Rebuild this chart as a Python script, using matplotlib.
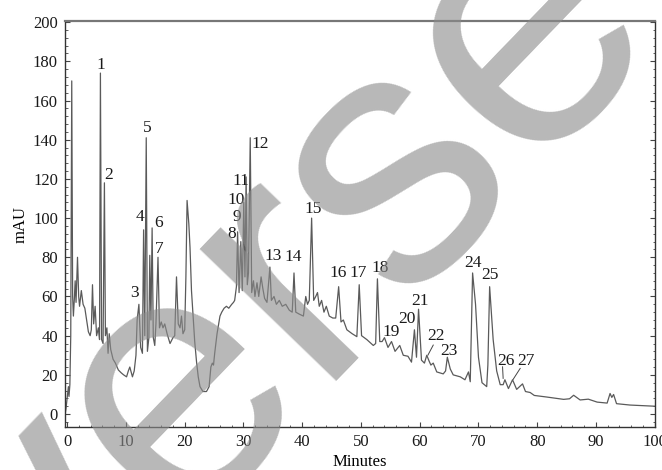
import numpy as np
import matplotlib.pyplot as plt
from matplotlib.ticker import MultipleLocator

########## Chromatogram trace ##########
t_min = [-0.4, -0.2, 0.05, 0.2, 0.3, 0.45, 0.6, 0.77, 0.92, 1.05, 1.2, 1.35, 1.5, 1.75, 1.95,
         2.1, 2.4, 2.7, 3.0, 3.3, 3.6, 3.9, 4.1, 4.3, 4.5, 4.75, 5.0, 5.3, 5.5, 5.65, 5.85,
         6.1, 6.33, 6.5, 6.75, 6.95, 7.15, 7.4, 7.8, 8.2, 8.7, 9.2, 9.6, 10.1, 10.4, 10.65,
         11.1, 11.4, 11.7, 11.9, 12.2, 12.5, 12.8, 13.0, 13.2, 13.45, 13.65, 13.9, 14.05,
         14.25, 14.45, 14.65, 14.9, 15.1, 15.45, 15.7, 16.0, 16.3, 16.6, 17.0, 17.5, 18.0,
         18.3, 18.6, 18.9, 19.2, 19.45, 19.7, 20.0, 20.2, 20.4, 20.7, 20.9, 21.15, 21.4, 21.7,
         22.0, 22.3, 22.6, 23.1, 23.7, 24.15, 24.45, 24.7, 24.9, 25.1, 25.5, 26.0, 26.3, 26.7,
         27.1, 27.5, 28.0, 28.3, 28.5, 28.8, 29.0, 29.25, 29.55, 29.8, 30.05, 30.25, 30.45,
         30.65, 30.85, 31.15, 31.4, 31.7, 31.95, 32.3, 32.6, 33.0, 33.3, 33.6, 34.0, 34.5,
         34.75, 35.2, 35.6, 36.1, 36.6, 37.2, 37.8, 38.3, 38.6, 38.9, 39.5, 40.2, 40.6, 40.9,
         41.2, 41.6, 41.95, 42.3, 42.6, 42.9, 43.3, 43.7, 44.1, 44.6, 45.2, 45.7, 46.2, 46.6,
         47.0, 47.6, 48.5, 49.3, 49.7, 50.1, 51.0, 52.1, 52.5, 52.8, 53.2, 53.6, 54.0, 54.6,
         55.2, 55.8, 56.6, 57.2, 58.0, 58.6, 59.1, 59.45, 59.8, 60.3, 60.8, 61.2, 61.6, 61.9,
         62.3, 62.9, 64.0, 64.4, 64.7, 65.2, 65.7, 66.9, 67.7, 68.3, 68.6, 69.0, 69.5, 70.0,
         70.6, 71.4, 71.6, 71.9, 72.5, 73.1, 73.7, 74.2, 74.5, 75.1, 75.8, 76.5, 77.5, 78.0,
         78.8, 79.5, 81.6, 84.5, 85.5, 86.2, 87.3, 88.7, 90.2, 91.9, 92.4, 92.7, 93.0, 93.5,
         95.8, 100.0]
mau = [-1, 3, 10, 14, 9, 15, 40, 170, 60, 50, 58, 68, 57, 80, 60,
       55, 63, 56, 54, 48, 42, 40, 43, 66, 46, 55, 40, 44, 38, 174, 38,
       36, 118, 40, 44, 31, 41, 33, 28, 26, 22.5, 21, 20, 19, 22, 24,
       19, 22, 30, 48, 56, 34, 31, 94, 40, 141, 32, 39, 81,
       48, 95, 39, 35, 46, 80, 44, 47, 44, 46, 41, 36, 39,
       40, 70, 46, 44, 50, 41, 43, 70, 109, 97, 85, 63, 51, 37,
       27, 19, 14, 11.5, 11.5, 14, 24, 26, 25, 31, 41, 50, 52, 54,
       55, 54, 56, 57, 58, 65, 93, 62, 88, 63, 108, 70, 121,
       66, 72, 141, 62, 68, 60, 67, 60, 70, 64, 59, 57, 75,
       58, 60, 56, 58, 55, 56, 53, 52, 72, 52, 51, 50, 60, 56,
       58, 100, 58, 60, 62, 55, 58, 52, 55, 50, 49, 49, 65, 47,
       48, 43, 41, 39.5, 66, 40, 38, 35, 36, 69, 37, 37, 39, 34,
       37, 32, 35, 30, 29.5, 26.5, 43, 29, 53.5, 27.5, 26, 30, 27, 25,
       26, 21.5, 20.5, 22, 29, 23, 20, 19, 17.5, 21.5, 16.5, 72, 56, 29,
       16, 14, 25, 65, 38, 22, 15, 15, 17.5, 13, 17.5, 12.6, 15.4, 11.5,
       11, 9.5, 8.7, 7.5, 7.8, 9.6, 7.2, 7.6, 6.1, 5.6, 10.5, 8.5, 10, 5.3,
       4.6, 4]

########## Peak numbers and where they are written ##########
peak_ids = list(range(1, 28))
label_t = [5.76, 7.0, 11.5, 12.35, 13.55, 15.6, 15.6, 28.0, 28.8, 28.7, 29.6, 32.9, 35.0, 38.4,
           41.8, 46.1, 49.5, 53.2, 55.1, 57.9, 60.05, 62.8, 65.0, 69.0, 71.9, 74.7, 78.1]
label_v = [178, 122, 62, 100.5, 146, 97.5, 84, 92, 100.5, 109, 119, 138, 80.6, 80,
           104.6, 72, 72, 74.5, 42, 48.5, 57.7, 40, 32, 77, 71, 27, 27]

# leader lines for the crowded small peaks (22, 26, 27)
leader_t = [(62.3, 61.4), (74.1, 74.2), (77.1, 75.9)]
leader_v = [(35.2, 30.1), (24.1, 18.2), (23.3, 17.7)]

serif = ['Liberation Serif', 'DejaVu Serif']

fig = plt.figure(figsize=(6.62, 4.70), dpi=100)
ax = fig.add_axes([0.098, 0.0915, 0.891, 0.8635])

ax.plot(t_min, mau, color='#5a5a5a', lw=0.9)

for pid, tx, vy in zip(peak_ids, label_t, label_v):
    ax.text(tx, vy, str(pid), ha='center', va='center', fontsize=12.5,
            family=serif, color='#1a1a1a')
for lt, lv in zip(leader_t, leader_v):
    ax.plot(lt, lv, color='#444444', lw=0.7)

ax.set_xlim(-0.4, 100)
ax.set_ylim(-6.6, 200.5)
ax.xaxis.set_major_locator(MultipleLocator(10))
ax.xaxis.set_minor_locator(MultipleLocator(2))
ax.yaxis.set_major_locator(MultipleLocator(20))
ax.yaxis.set_minor_locator(MultipleLocator(4))
ax.tick_params(which='both', direction='in', right=True, top=False, colors='#444444',
               labelcolor='#1a1a1a', labelsize=12)
ax.tick_params(which='major', length=3.5, width=0.8, pad=5)
ax.tick_params(which='minor', length=1.8, width=0.6)
for lab in ax.get_xticklabels() + ax.get_yticklabels():
    lab.set_family(serif)
for side in ['left', 'bottom', 'right']:
    ax.spines[side].set_color('#333333')
    ax.spines[side].set_linewidth(1.0)
ax.spines['top'].set_color('#777777')
ax.spines['top'].set_linewidth(1.6)

ax.set_xlabel('Minutes', family=serif, fontsize=12, labelpad=3)
ax.set_ylabel('mAU', family=serif, fontsize=12, labelpad=3)

########## Watermark ##########
fig.text(0.19, 0.074, 'Reverse', rotation=46, rotation_mode='anchor', ha='center',
         va='center', fontsize=260, family=['Liberation Sans', 'DejaVu Sans'],
         color='#8c8c8c', alpha=0.62, zorder=10)

fig.savefig('out.png', dpi=100)
